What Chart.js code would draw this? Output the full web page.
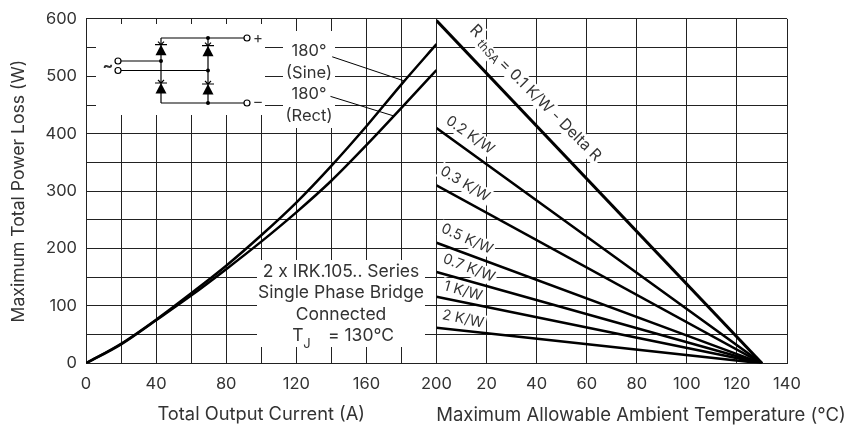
<!DOCTYPE html>
<html>
<head>
<meta charset="utf-8">
<style>
  html, body { margin: 0; padding: 0; background: #fff; }
  #wrap { position: relative; width: 848px; height: 430px; }
</style>
<script src="https://cdn.jsdelivr.net/npm/chart.js@4"></script>
</head>
<body>
<div id="wrap"><canvas id="lossChart" width="848" height="430"></canvas></div>
<script>
// Left panel: power loss against output current
var currents = [0, 20, 40, 60, 80, 100, 120, 140, 160, 180, 200];
var sineLoss = [0, 34, 76, 122, 170, 223, 280, 344, 413, 486, 556];
var rectLoss = [0, 33, 75, 118, 164, 212, 263, 318, 380, 445, 511];

// Right panel: power loss against ambient temperature, one line per thermal resistance
var ambientEnds = [0, 130];
var rth01 = [597, 0];
var rth02 = [410, 0];
var rth03 = [310, 0];
var rth05 = [210, 0];
var rth07 = [159, 0];
var rth1 = [116, 0];
var rth2 = [62, 0];

// Thin leader lines from the 180 degree labels to their curves
var sineLeaderX = [140.5, 181.5];
var sineLeaderY = [534, 492];
var rectLeaderX = [139.5, 175.5];
var rectLeaderY = [465, 431];

var FONT = 'Inter, "Open Sans", sans-serif';
var INK = '#333';

function points(xs, ys) {
  return xs.map(function (x, i) { return { x: x, y: ys[i] }; });
}

function heavy(xs, ys, axis, width) {
  return {
    data: points(xs, ys), xAxisID: axis, borderColor: '#000', borderWidth: width,
    pointRadius: 0, cubicInterpolationMode: 'monotone', fill: false
  };
}

// white box with text turned along a line
function slanted(ctx, text, cx, cy, deg, size) {
  ctx.save();
  ctx.translate(cx, cy);
  ctx.rotate(deg * Math.PI / 180);
  ctx.font = size + 'px ' + FONT;
  ctx.textAlign = 'center';
  ctx.textBaseline = 'middle';
  var w = ctx.measureText(text).width;
  ctx.fillStyle = '#fff';
  ctx.fillRect(-w / 2 - 2, -size / 2 - 1, w + 4, size + 2);
  ctx.fillStyle = INK;
  ctx.fillText(text, 0, 0);
  ctx.restore();
}

function diode(ctx, x, barY) {
  ctx.beginPath();
  ctx.moveTo(x, barY);
  ctx.lineTo(x - 5.5, barY + 10.5);
  ctx.lineTo(x + 5.5, barY + 10.5);
  ctx.closePath();
  ctx.fill();
  ctx.beginPath();
  ctx.moveTo(x - 6, barY);
  ctx.lineTo(x + 6, barY);
  ctx.moveTo(x - 3, barY - 3);
  ctx.lineTo(x, barY);
  ctx.lineTo(x + 3, barY - 3);
  ctx.stroke();
}

function line(ctx, x1, y1, x2, y2) {
  ctx.beginPath();
  ctx.moveTo(x1, y1);
  ctx.lineTo(x2, y2);
  ctx.stroke();
}

function dot(ctx, x, y) {
  ctx.beginPath();
  ctx.arc(x, y, 2, 0, Math.PI * 2);
  ctx.fill();
}

function ring(ctx, x, y) {
  ctx.beginPath();
  ctx.arc(x, y, 3, 0, Math.PI * 2);
  ctx.fillStyle = '#fff';
  ctx.fill();
  ctx.stroke();
  ctx.fillStyle = '#000';
}

// The bridge schematic and all the notes sit on white patches over the grid
var notes = {
  id: 'notes',
  beforeDatasetsDraw: function (chart) {
    var ctx = chart.ctx;
    ctx.save();

    ctx.fillStyle = '#fff';
    ctx.fillRect(96, 24, 169, 91);
    ctx.fillRect(283, 31, 52, 97);
    ctx.fillRect(257, 260, 168, 87);

    // schematic
    ctx.strokeStyle = '#000';
    ctx.fillStyle = '#000';
    ctx.lineWidth = 1.2;
    line(ctx, 161, 38, 245, 38);
    line(ctx, 161, 103, 245, 103);
    line(ctx, 161, 38, 161, 103);
    line(ctx, 208, 38, 208, 103);
    line(ctx, 118, 61, 161, 61);
    line(ctx, 118, 70.5, 208, 70.5);
    diode(ctx, 161, 44.7);
    diode(ctx, 161, 83);
    diode(ctx, 208, 45.7);
    diode(ctx, 208, 84);
    dot(ctx, 161, 61);
    dot(ctx, 208, 70.5);
    dot(ctx, 208, 38);
    dot(ctx, 208, 103);
    ring(ctx, 118, 61);
    ring(ctx, 118, 70.5);
    ring(ctx, 247, 38);
    ring(ctx, 247, 103);

    ctx.fillStyle = INK;
    ctx.textAlign = 'center';
    ctx.textBaseline = 'middle';
    ctx.font = 'bold 16px ' + FONT;
    ctx.fillText('~', 108, 66);
    ctx.font = '15px ' + FONT;
    ctx.fillText('+', 258, 38);
    ctx.fillText('\u2013', 258, 102);

    // curve labels
    ctx.font = '16.5px ' + FONT;
    ctx.fillText('180\u00b0', 309, 51);
    ctx.fillText('(Sine)', 309, 73);
    ctx.fillText('180\u00b0', 309, 94);
    ctx.fillText('(Rect)', 309, 116);

    // device note
    ctx.font = '17.5px ' + FONT;
    ctx.fillText('2 x IRK.105.. Series', 341, 272);
    ctx.fillText('Single Phase Bridge', 341, 293);
    ctx.fillText('Connected', 341, 315);
    ctx.fillText('T', 298, 336);
    ctx.fillText('= 130\u00b0C', 361, 336);
    ctx.font = '13px ' + FONT;
    ctx.fillText('J', 307, 344);

    // thermal resistance labels
    slanted(ctx, 'R', 476, 31, 45, 16);
    slanted(ctx, 'thSA', 488, 52, 50, 12);
    slanted(ctx, '= 0.1 K/W - Delta R', 550, 110, 45, 15.5);
    slanted(ctx, '0.2 K/W', 470, 135, 35, 14.5);
    slanted(ctx, '0.3 K/W', 465, 184, 31, 14.5);
    slanted(ctx, '0.5 K/W', 467, 239, 24, 14.5);
    slanted(ctx, '0.7 K/W', 469, 268, 21, 14.5);
    slanted(ctx, '1 K/W', 463, 291, 16, 14.5);
    slanted(ctx, '2 K/W', 463, 319, 12, 14.5);

    // the right title runs past the end of its axis, so it can't be an axis title
    ctx.fillStyle = INK;
    ctx.font = '18.5px ' + FONT;
    ctx.textAlign = 'center';
    ctx.fillText('Maximum Allowable Ambient Temperature (\u00b0C)', 641, 415);
    ctx.restore();
  }
};

function tickFont() {
  return { family: FONT, size: 16.5 };
}

var ctx = document.getElementById('lossChart').getContext('2d');

var lossChart = new Chart(ctx, {
  type: 'line',
  data: {
    datasets: [
      heavy(currents, sineLoss, 'x1', 2.5),
      heavy(currents, rectLoss, 'x1', 2.5),
      heavy(sineLeaderX, sineLeaderY, 'x1', 1),
      heavy(rectLeaderX, rectLeaderY, 'x1', 1),
      heavy(ambientEnds, rth01, 'x2', 3),
      heavy(ambientEnds, rth02, 'x2', 2.5),
      heavy(ambientEnds, rth03, 'x2', 2.5),
      heavy(ambientEnds, rth05, 'x2', 2.5),
      heavy(ambientEnds, rth07, 'x2', 2.5),
      heavy(ambientEnds, rth1, 'x2', 2.5),
      heavy(ambientEnds, rth2, 'x2', 2.5)
    ]
  },
  options: {
    responsive: false,
    animation: false,
    events: [],
    layout: { padding: { top: 12, right: 61, left: 0, bottom: 0 } },
    plugins: { legend: { display: false }, tooltip: { enabled: false } },
    scales: {
      y: {
        type: 'linear',
        min: 0,
        max: 600,
        afterFit: function (scale) { scale.width = 86; },
        grid: { color: '#222', lineWidth: 1, drawTicks: false },
        border: { color: '#222' },
        ticks: {
          stepSize: 50,
          autoSkip: false,
          padding: 9,
          color: INK,
          font: tickFont(),
          callback: function (v) { return v % 100 === 0 ? v : ''; }
        },
        title: {
          display: true,
          text: 'Maximum Total Power Loss (W)',
          color: INK,
          font: { family: FONT, size: 17.6 },
          padding: { top: 8, bottom: 0 }
        }
      },
      x1: {
        type: 'linear',
        position: 'bottom',
        stack: 'bottomAxes',
        stackWeight: 1,
        min: 0,
        max: 200,
        afterFit: function (scale) { scale.height = 66.7; },
        grid: { color: '#222', lineWidth: 1, drawTicks: false },
        border: { color: '#222' },
        ticks: {
          stepSize: 20,
          autoSkip: false,
          maxRotation: 0,
          padding: 11,
          color: INK,
          font: tickFont(),
          callback: function (v) { return v % 40 === 0 ? v : ''; }
        },
        title: {
          display: true,
          text: 'Total Output Current (A)',
          color: INK,
          font: { family: FONT, size: 18.3 },
          padding: { top: 0, bottom: 5 }
        }
      },
      x2: {
        type: 'linear',
        position: 'bottom',
        stack: 'bottomAxes',
        stackWeight: 1,
        min: 0,
        max: 140,
        afterFit: function (scale) { scale.height = 66.7; },
        grid: { color: '#222', lineWidth: 1, drawTicks: false },
        border: { color: '#222' },
        ticks: {
          stepSize: 20,
          autoSkip: false,
          maxRotation: 0,
          padding: 11,
          color: INK,
          font: tickFont(),
          // its zero is where the current axis ends, and that one already prints 200
          callback: function (v) { return v === 0 ? '' : v; }
        }
      }
    }
  },
  plugins: [notes]
});
</script>
</body>
</html>
